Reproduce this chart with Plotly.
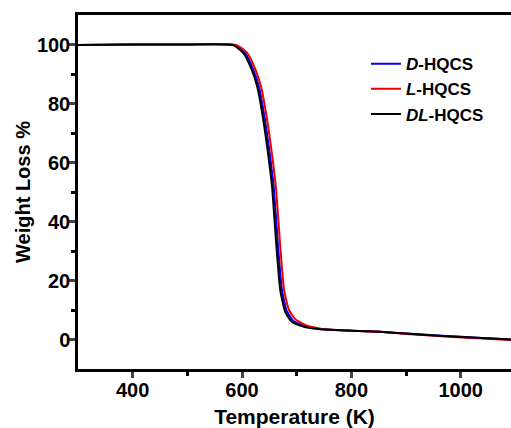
import plotly.graph_objects as go

# Temperature (K) and weight (%)
T_D = [300, 400, 500, 587, 606, 621, 631, 640, 649, 658, 666, 673, 682, 694, 715, 733, 745, 800, 852, 900, 974, 1030, 1092]
W_D = [99.8, 100, 100, 99.8, 97, 91.3, 85.6, 76.7, 65.3, 51.7, 31.4, 16.7, 9.6, 6.3, 4.5, 3.8, 3.5, 3.0, 2.6, 2.0, 1.2, 0.6, 0.0]

T_L = [300, 400, 500, 590, 610, 625, 635, 644, 653, 662, 670, 677, 686, 698, 718, 735, 747, 800, 852, 900, 974, 1030, 1092]
W_L = [99.8, 100, 100, 99.8, 97, 91.3, 85.6, 76.7, 65.3, 51.7, 31.4, 16.7, 10.0, 6.8, 4.8, 4.0, 3.6, 3.0, 2.6, 1.9, 1.0, 0.4, -0.2]

T_DL = [300, 400, 500, 584, 603, 618, 628, 637, 646, 655, 663, 670, 679, 691, 713, 731, 743, 800, 852, 900, 974, 1030, 1092]
W_DL = [99.8, 100, 100, 99.8, 97, 91.3, 85.6, 76.7, 65.3, 51.7, 31.4, 16.7, 9.4, 6.0, 4.3, 3.7, 3.5, 3.0, 2.6, 2.0, 1.1, 0.6, 0.0]

names = ["<i>D</i>-HQCS", "<i>L</i>-HQCS", "<i>DL</i>-HQCS"]
colors = ["#0000ee", "#ee0000", "#000000"]

X_TICKS = [400, 600, 800, 1000]
Y_TICKS = [0, 20, 40, 60, 80, 100]

FONT = "Liberation Sans, Arial, sans-serif"

fig = go.Figure()
for t, w, n, c in zip([T_D, T_L, T_DL], [W_D, W_L, W_DL], names, colors):
    fig.add_trace(go.Scatter(x=t, y=w, mode="lines", name=n,
                             line=dict(color=c, width=2, shape="spline", smoothing=0.5)))

fig.update_layout(
    width=511, height=428,
    margin=dict(l=78, r=0, t=15, b=59),
    paper_bgcolor="white", plot_bgcolor="white",
    font=dict(family=FONT, color="black", weight="bold"),
    showlegend=True,
    legend=dict(x=0.665, y=0.912, xanchor="left", yanchor="top",
                bgcolor="rgba(0,0,0,0)", font=dict(size=17, family=FONT, weight="bold"),
                itemwidth=30, tracegroupgap=0),
)
fig.update_xaxes(
    range=[300, 1092], tickvals=X_TICKS, ticks="outside", ticklen=6, tickwidth=2.5,
    showline=True, linewidth=2.5, linecolor="black", mirror=True,
    showgrid=False, zeroline=False, automargin=False, ticklabelstandoff=-5,
    tickfont=dict(size=20, family=FONT, weight="bold"),
    minor=dict(tickvals=[500, 700, 900], ticks="outside", ticklen=4, tickwidth=2.5, tickcolor="black"),
    title=dict(text="Temperature (K)", font=dict(size=21, family=FONT, weight="bold"), standoff=11),
)
fig.update_yaxes(
    range=[-10, 110], tickvals=Y_TICKS, ticks="outside", ticklen=6, tickwidth=2.5,
    showline=True, linewidth=2.5, linecolor="black",
    showgrid=False, zeroline=False, automargin=False, ticklabelstandoff=-5,
    tickfont=dict(size=20, family=FONT, weight="bold"),
    minor=dict(tickvals=[10, 30, 50, 70, 90], ticks="outside", ticklen=4, tickwidth=2.5, tickcolor="black"),
    title=dict(text="Weight Loss %", font=dict(size=20, family=FONT, weight="bold"), standoff=1),
)

fig.write_html("out.html", config={"displayModeBar": False},
               post_script="document.body.style.margin='0';document.body.style.overflow='hidden';")
